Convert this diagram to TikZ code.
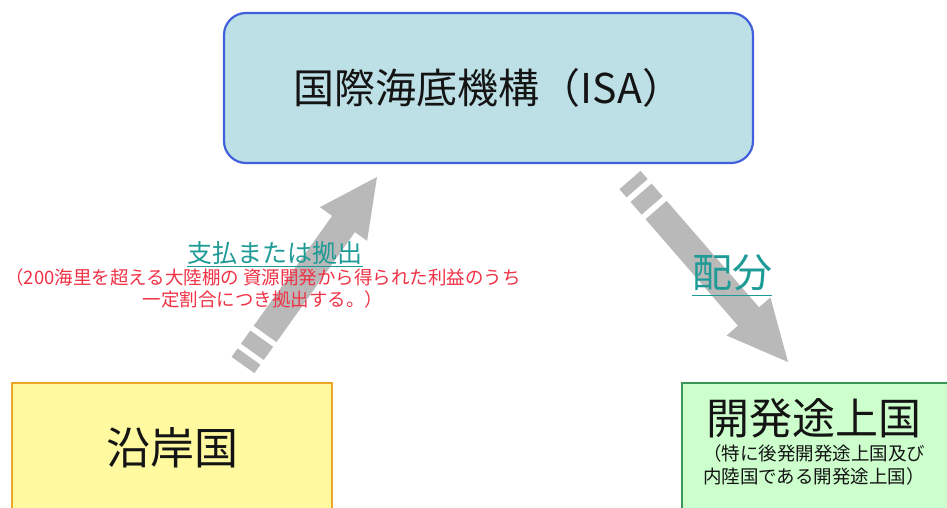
\documentclass[tikz,border=0pt]{standalone}
\usepackage{fontspec}
\setmainfont{Noto Sans CJK JP}
\usetikzlibrary{calc}
\definecolor{isafill}{RGB}{189,224,230}
\definecolor{isaline}{RGB}{66,96,220}
\definecolor{coastfill}{RGB}{255,250,160}
\definecolor{coastline}{RGB}{235,165,40}
\definecolor{devfill}{RGB}{204,255,204}
\definecolor{devline}{RGB}{60,150,90}
\definecolor{arrowgray}{RGB}{185,185,185}
\definecolor{tealtext}{RGB}{30,155,150}
\definecolor{redtext}{RGB}{240,50,70}
\definecolor{inktext}{RGB}{20,20,20}
\newcommand\stripedarrow[2]{%
 \fill[arrowgray] ($(#1)!0!(#2)!14pt!90:(#2)$) -- ($(#1)!0.045!(#2)!14pt!90:(#2)$) -- ($(#1)!0.045!(#2)!14pt!-90:(#2)$) -- ($(#1)!0!(#2)!14pt!-90:(#2)$) -- cycle;
 \fill[arrowgray] ($(#1)!0.07!(#2)!14pt!90:(#2)$) -- ($(#1)!0.14!(#2)!14pt!90:(#2)$) -- ($(#1)!0.14!(#2)!14pt!-90:(#2)$) -- ($(#1)!0.07!(#2)!14pt!-90:(#2)$) -- cycle;
 \fill[arrowgray] ($(#1)!0.165!(#2)!14pt!90:(#2)$) -- ($(#1)!0.75!(#2)!14pt!90:(#2)$) -- ($(#1)!0.75!(#2)!29pt!90:(#2)$) -- (#2) -- ($(#1)!0.75!(#2)!29pt!-90:(#2)$) -- ($(#1)!0.75!(#2)!14pt!-90:(#2)$) -- ($(#1)!0.165!(#2)!14pt!-90:(#2)$) -- cycle;
}
\begin{document}
\begin{tikzpicture}[x=1pt,y=-1pt,
  boxbase/.style={draw, line width=2.2pt, inner sep=0pt, text=inktext},
  isabox/.style={boxbase, draw=isaline, fill=isafill, rounded corners=22pt},
  coastbox/.style={boxbase, draw=coastline, fill=coastfill},
  devbox/.style={boxbase, draw=devline, fill=devfill},
  teallabel/.style={text=tealtext, inner sep=0pt},
  ulinestyle/.style={draw=tealtext, line width=1pt},
  redlabel/.style={text=redtext, inner sep=0pt, align=center, font=\fontsize{18.5}{22}\selectfont},
  textlabel/.style={text=inktext, inner sep=0pt, align=center}]
\useasboundingbox (0,0) rectangle (947,507);
\fill[white] (0,0) rectangle (947,507);
\clip (0,0) rectangle (947,507);
% boxes
\node[isabox, minimum width=529pt, minimum height=150pt] (isa) at (488.5,88) {\fontsize{41}{48}\selectfont 国際海底機構（ISA）};
\node[coastbox, minimum width=320pt, minimum height=130pt] (coast) at (172,448) {\fontsize{44}{50}\selectfont 沿岸国};
\node[devbox, minimum width=268pt, minimum height=130pt] (dev) at (816,448) {};
\node[textlabel, font=\fontsize{43}{48}\selectfont] (devtitle) at (814,418) {開発途上国};
\node[textlabel, font=\fontsize{18.5}{23}\selectfont] (devnote) at (814,465) {（特に後発開発途上国及び\\内陸国である開発途上国）};
% arrows
\coordinate (upTail) at (243,365);
\coordinate (upTip) at (377,177);
\coordinate (downTail) at (630,180);
\coordinate (downTip) at (788,362);
\stripedarrow{upTail}{upTip}
\stripedarrow{downTail}{downTip}
% labels
\node[teallabel, font=\fontsize{25}{28}\selectfont, anchor=base] (pay) at (275,262) {支払または拠出};
\draw[ulinestyle] ($(pay.base west)+(0,4.5)$) coordinate (payU1) -- ($(pay.base east)+(0,4.5)$) coordinate (payU2);
\node[redlabel] (paynote) at (263,288) {（200海里を超える大陸棚の 資源開発から得られた利益のうち\\一定割合につき拠出する。）};
\node[teallabel, font=\fontsize{40}{44}\selectfont] (alloc) at (732,273) {配分};
\draw[ulinestyle] ($(alloc.south west)+(0,4)$) coordinate (allocU1) -- ($(alloc.south east)+(0,4)$) coordinate (allocU2);
\end{tikzpicture}
\end{document}
